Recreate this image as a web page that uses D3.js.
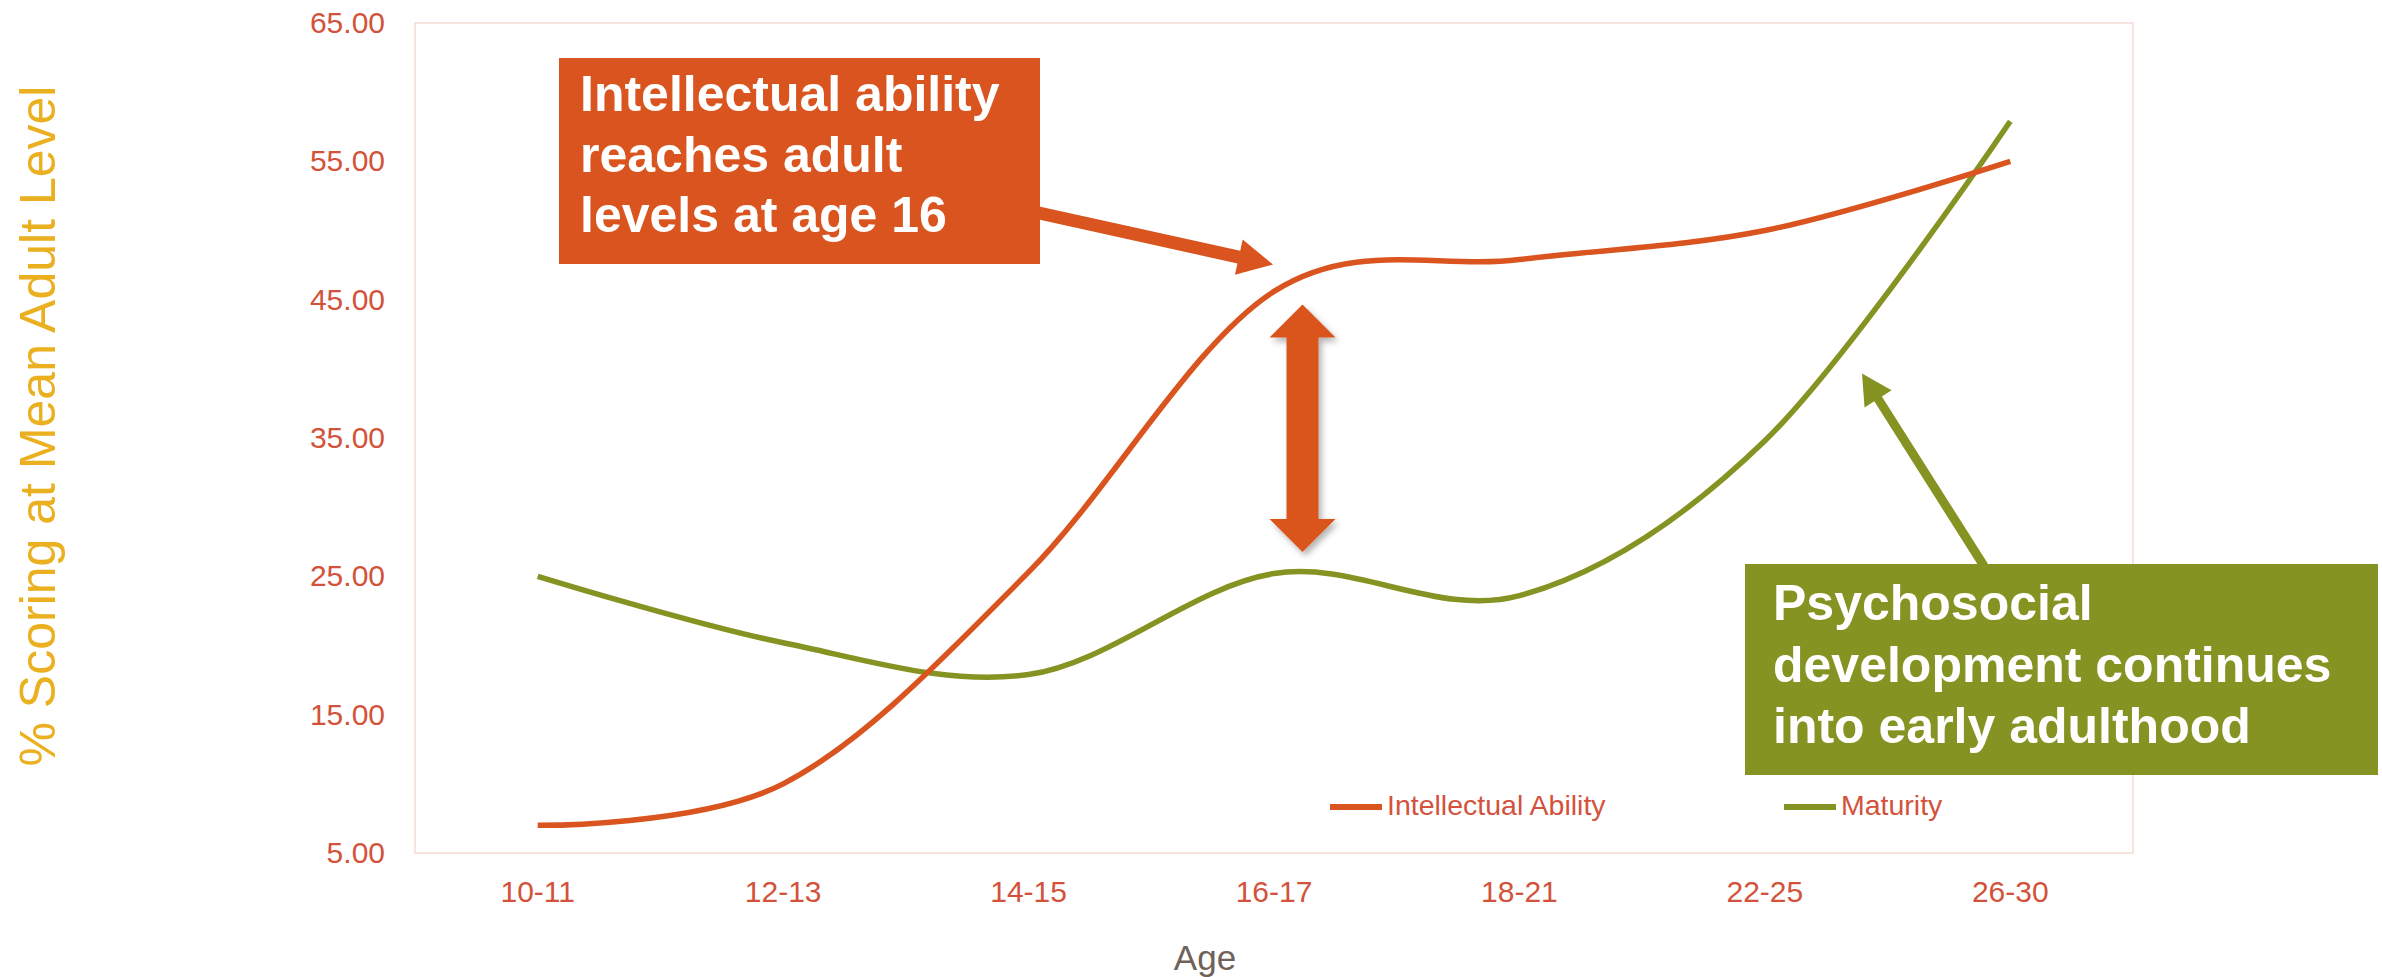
<!DOCTYPE html>
<html>
<head>
<meta charset="utf-8">
<script src="https://cdn.jsdelivr.net/npm/d3@7"></script>
<style>
  html, body { margin: 0; padding: 0; background: #ffffff; }
  svg { display: block; }
  text { font-family: "Liberation Sans", Arial, sans-serif; }
</style>
</head>
<body>
<svg id="chart" width="2382" height="977"></svg>
<script>
// ---- data ----
const categories = ["10-11", "12-13", "14-15", "16-17", "18-21", "22-25", "26-30"];
const intellectual = [7.0, 10.0, 25.3, 45.6, 47.9, 50.0, 55.0];
const maturity = [25.0, 20.2, 17.9, 25.2, 23.6, 34.8, 57.9];
const yTicks = [5, 15, 25, 35, 45, 55, 65];
const seriesNames = ["Intellectual Ability", "Maturity"];
const yTitle = "% Scoring at Mean Adult Level";
const xTitle = "Age";
const noteIntellectual = ["Intellectual ability", "reaches adult", "levels at age 16"];
const noteMaturity = ["Psychosocial", "development continues", "into early adulthood"];

// ---- styling ----
const W = 2382, H = 977;
const plot = { left: 415, right: 2133, top: 23, bottom: 853 };
const cOrange = "#D9541F";
const cGreen = "#849321";
const cTick = "#D3523B";
const cGold = "#EAB020";
const cAge = "#6F6259";
const cBorder = "#F6DAD4";

const svg = d3.select("#chart");

const defs = svg.append("defs");
const f = defs.append("filter").attr("id", "shadow")
  .attr("x", "-50%").attr("y", "-20%").attr("width", "200%").attr("height", "140%");
f.append("feDropShadow").attr("dx", 3).attr("dy", 4).attr("stdDeviation", 3)
  .attr("flood-color", "#000").attr("flood-opacity", 0.3);

const x = d3.scaleBand().domain(categories).range([plot.left, plot.right]);
const y = d3.scaleLinear().domain([5, 65]).range([plot.bottom, plot.top]);
const cx = c => x(c) + x.bandwidth() / 2;

// plot area border
svg.append("rect")
  .attr("x", plot.left).attr("y", plot.top)
  .attr("width", plot.right - plot.left).attr("height", plot.bottom - plot.top)
  .attr("fill", "none").attr("stroke", cBorder).attr("stroke-width", 1.5);

// y axis
const yAxis = svg.append("g").attr("transform", `translate(${plot.left},0)`)
  .call(d3.axisLeft(y).tickValues(yTicks).tickFormat(d3.format(".2f")).tickSize(0).tickPadding(30));
yAxis.select(".domain").remove();
yAxis.selectAll("text").attr("fill", cTick).style("font-size", "30px")
  .style("font-family", "'Liberation Sans', Arial, sans-serif");

// x axis
const xAxis = svg.append("g").attr("transform", `translate(0,${plot.bottom})`)
  .call(d3.axisBottom(x).tickSize(0).tickPadding(27.4));
xAxis.select(".domain").remove();
xAxis.selectAll("text").attr("fill", cTick).style("font-size", "30px")
  .style("font-family", "'Liberation Sans', Arial, sans-serif");

// axis titles
svg.append("text")
  .attr("transform", `translate(55, ${(plot.top + plot.bottom) / 2 - 12}) rotate(-90)`)
  .attr("text-anchor", "middle").attr("fill", cGold)
  .style("font-size", "50px").text(yTitle);

svg.append("text")
  .attr("x", 1205).attr("y", 970).attr("text-anchor", "middle")
  .attr("fill", cAge).style("font-size", "35px").text(xTitle);

// lines
const line = d3.line()
  .x((d, i) => cx(categories[i]))
  .y(d => y(d))
  .curve(d3.curveCatmullRom.alpha(0));

svg.append("path").datum(maturity)
  .attr("d", line).attr("fill", "none").attr("stroke", cGreen).attr("stroke-width", 5.5);
svg.append("path").datum(intellectual)
  .attr("d", line).attr("fill", "none").attr("stroke", cOrange).attr("stroke-width", 5.5);

// legend
const legend = [
  { name: seriesNames[0], color: cOrange, x0: 1330 },
  { name: seriesNames[1], color: cGreen, x0: 1784 }
];
const lg = svg.append("g");
legend.forEach(l => {
  lg.append("line").attr("x1", l.x0).attr("x2", l.x0 + 52).attr("y1", 807).attr("y2", 807)
    .attr("stroke", l.color).attr("stroke-width", 6);
  lg.append("text").attr("x", l.x0 + 57).attr("y", 815).attr("fill", cTick)
    .style("font-size", "28.5px").text(l.name);
});

// arrow helper
function arrowPoints(x1, y1, x2, y2, sw, hl, hw) {
  const dx = x2 - x1, dy = y2 - y1, L = Math.hypot(dx, dy);
  const ux = dx / L, uy = dy / L, px = -uy, py = ux;
  const bx = x2 - ux * hl, by = y2 - uy * hl;
  return [
    [x1 + px * sw / 2, y1 + py * sw / 2],
    [bx + px * sw / 2, by + py * sw / 2],
    [bx + px * hw / 2, by + py * hw / 2],
    [x2, y2],
    [bx - px * hw / 2, by - py * hw / 2],
    [bx - px * sw / 2, by - py * sw / 2],
    [x1 - px * sw / 2, y1 - py * sw / 2]
  ];
}
const poly = pts => pts.map(p => p.join(",")).join(" ");

// orange annotation arrow
svg.append("polygon")
  .attr("points", poly(arrowPoints(1030, 211, 1273, 264.6, 13, 35, 36)))
  .attr("fill", cOrange);

// green annotation arrow
svg.append("polygon")
  .attr("points", poly(arrowPoints(1984, 566, 1862, 373.6, 9, 30, 32)))
  .attr("fill", cGreen);

// double-headed gap arrow
(function () {
  const xc = cx("16-17") + 28.5, top = 304.6, bot = 552, hl = 33, hw = 66, sw = 32;
  const pts = [
    [xc, top], [xc + hw / 2, top + hl], [xc + sw / 2, top + hl],
    [xc + sw / 2, bot - hl], [xc + hw / 2, bot - hl], [xc, bot],
    [xc - hw / 2, bot - hl], [xc - sw / 2, bot - hl], [xc - sw / 2, top + hl],
    [xc - hw / 2, top + hl]
  ];
  svg.append("polygon").attr("points", poly(pts)).attr("fill", cOrange)
    .attr("filter", "url(#shadow)");
})();

// annotation boxes
function noteBox(x0, y0, w, h, color, lines, tx, baselines) {
  const g = svg.append("g");
  g.append("rect").attr("x", x0).attr("y", y0).attr("width", w).attr("height", h).attr("fill", color);
  lines.forEach((t, i) => {
    g.append("text").attr("x", tx).attr("y", baselines[i]).attr("fill", "#ffffff")
      .style("font-size", "50px").style("font-weight", "bold").text(t);
  });
}
noteBox(559, 58, 481, 206, cOrange, noteIntellectual, 580, [111, 171.5, 232]);
noteBox(1745, 564, 633, 211, cGreen, noteMaturity, 1773, [620, 681.5, 743]);
</script>
</body>
</html>
